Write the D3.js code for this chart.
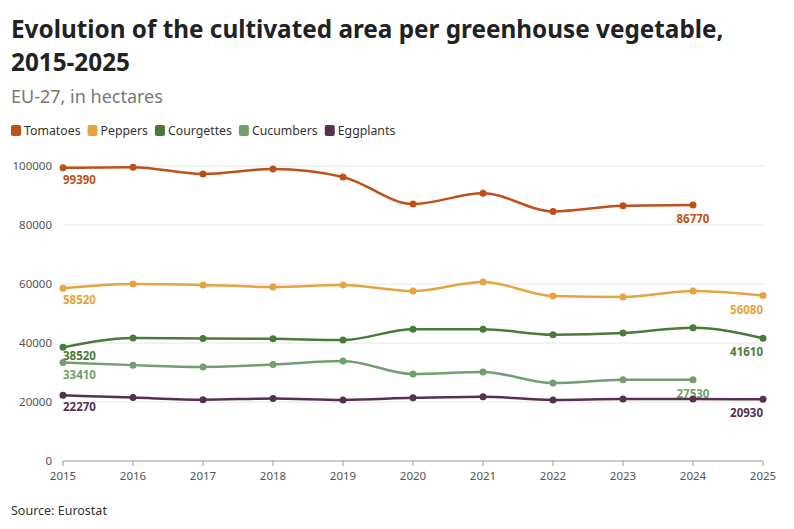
<!DOCTYPE html><html><head><meta charset="utf-8">
<script src="https://cdn.jsdelivr.net/npm/d3@7"></script>
<style>body{margin:0;background:#fff;font-family:"Source Sans Pro","Noto Sans",sans-serif}</style></head><body>
<svg id="c" width="794" height="529"></svg>
<script>
const years=[2015,2016,2017,2018,2019,2020,2021,2022,2023,2024,2025];
const tomatoes=[99390,99600,97300,99000,96300,87100,90800,84600,86500,86770,null];
const peppers=[58520,60000,59700,59000,59700,57600,60700,55900,55600,57600,56080];
const courgettes=[38520,41700,41500,41400,41000,44700,44700,42800,43400,45200,41610];
const cucumbers=[33410,32500,31900,32700,33900,29500,30200,26400,27530,27530,null];
const eggplants=[22270,21500,20800,21200,20700,21400,21800,20700,21000,21000,20930];
const yTicks=[0,20000,40000,60000,80000,100000];
const series=[
 {name:"Tomatoes",color:"#c0501a",vals:tomatoes,off:16},
 {name:"Peppers",color:"#e5a440",vals:peppers,off:16},
 {name:"Courgettes",color:"#4a7a3a",vals:courgettes,off:13},
 {name:"Cucumbers",color:"#739e6f",vals:cucumbers,off:17},
 {name:"Eggplants",color:"#55304f",vals:eggplants,off:16}];
const svg=d3.select("#c");
svg.append("text").attr("x",11).attr("y",38).attr("font-size",24.3).attr("font-weight",700).attr("fill","#222").text("Evolution of the cultivated area per greenhouse vegetable,");
svg.append("text").attr("x",11).attr("y",71).attr("font-size",24.3).attr("font-weight",700).attr("fill","#222").text("2015-2025");
svg.append("text").attr("x",11).attr("y",103).attr("font-size",18).attr("fill","#777").text("EU-27, in hectares");
let lx=11;
series.forEach(s=>{const g=svg.append("g");g.append("rect").attr("x",lx).attr("y",125).attr("width",10).attr("height",11).attr("rx",2).attr("fill",s.color);
 const t=g.append("text").attr("x",lx+13).attr("y",135).attr("font-size",12.3).attr("fill","#333").text(s.name);lx+=t.node().getComputedTextLength()+20;});
const x=d3.scaleLinear().domain([2015,2025]).range([63,763]);
const y=d3.scaleLinear().domain([0,100000]).range([461,166]);
yTicks.forEach(v=>{svg.append("line").attr("x1",63).attr("x2",763).attr("y1",y(v)).attr("y2",y(v)).attr("stroke",v?"#e6e6e6":"#999");
 svg.append("text").attr("x",52).attr("y",y(v)+4).attr("text-anchor","end").attr("font-size",11.5).attr("fill","#555").text(v);});
years.forEach(v=>{svg.append("line").attr("x1",x(v)).attr("x2",x(v)).attr("y1",461).attr("y2",466).attr("stroke","#999");
 svg.append("text").attr("x",x(v)).attr("y",480).attr("text-anchor","middle").attr("font-size",11.5).attr("fill","#555").text(v);});
const line=d3.line().x(d=>x(d[0])).y(d=>y(d[1])).curve(d3.curveMonotoneX);
series.forEach(s=>{const pts=years.map((yr,i)=>[yr,s.vals[i]]).filter(d=>d[1]!=null);
 svg.append("path").attr("d",line(pts)).attr("fill","none").attr("stroke",s.color).attr("stroke-width",2.5);
 svg.selectAll(null).data(pts).enter().append("circle").attr("cx",d=>x(d[0])).attr("cy",d=>y(d[1])).attr("r",3.5).attr("fill",s.color);
 const f=pts[0],l=pts[pts.length-1];
 svg.append("text").attr("x",x(f[0])).attr("y",y(f[1])+s.off).attr("font-size",11.5).attr("font-weight",700).attr("fill",s.color).text(f[1]);
 svg.append("text").attr("x",x(l[0])).attr("y",y(l[1])+18).attr("text-anchor",l[0]==2025?"end":"middle").attr("font-size",11.5).attr("font-weight",700).attr("fill",s.color).text(l[1]);
});
svg.append("text").attr("x",11).attr("y",515).attr("font-size",12.5).attr("fill","#333").text("Source: Eurostat");
</script></body></html>
